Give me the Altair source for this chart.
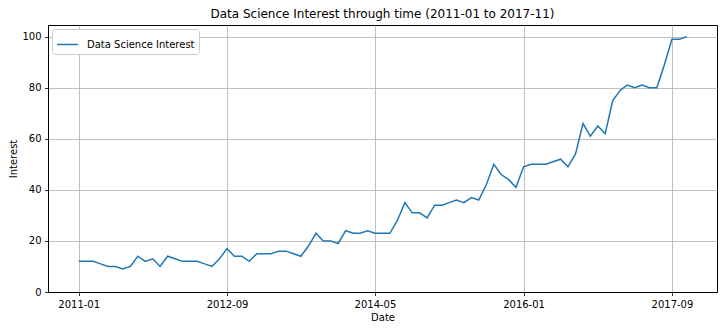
import altair as alt
import pandas as pd

# monthly observations 2011-01 .. 2017-11
months = [f"{y}-{m:02d}-01" for y in range(2011, 2018) for m in range(1, 13)][:83]
interest = [
    12, 12, 12, 11, 10, 10, 9, 10, 14, 12,
    13, 10, 14, 13, 12, 12, 12, 11, 10, 13,
    17, 14, 14, 12, 15, 15, 15, 16, 16, 15,
    14, 18, 23, 20, 20, 19, 24, 23, 23, 24,
    23, 23, 23, 28, 35, 31, 31, 29, 34, 34,
    35, 36, 35, 37, 36, 42, 50, 46, 44, 41,
    49, 50, 50, 50, 51, 52, 49, 54, 66, 61,
    65, 62, 75, 79, 81, 80, 81, 80, 80, 89,
    99, 99, 100,
]
series_name = "Data Science Interest"
y_ticks = [0, 20, 40, 60, 80, 100]
x_ticks = [(2011, 1), (2012, 9), (2014, 5), (2016, 1), (2017, 9)]

df = pd.DataFrame({
    "Date": pd.to_datetime(months),
    "Interest": interest,
    "series": [series_name] * len(interest),
})

x = alt.X(
    "Date:T",
    scale=alt.Scale(
        domain=[alt.DateTime(year=2010, month=8, date=28),
                alt.DateTime(year=2018, month=3, date=5)],
        nice=False,
    ),
    axis=alt.Axis(
        values=[alt.DateTime(year=yy, month=mm, date=1) for yy, mm in x_ticks],
        format="%Y-%m",
        title="Date",
        titlePadding=3,
    ),
)
y = alt.Y(
    "Interest:Q",
    scale=alt.Scale(domain=[0, 104.55], nice=False, zero=False),
    axis=alt.Axis(values=y_ticks, title="Interest", titlePadding=3),
)
color = alt.Color(
    "series:N",
    scale=alt.Scale(domain=[series_name], range=["#1f77b4"]),
    legend=alt.Legend(
        title=None,
        orient="top-left",
        offset=4,
        padding=4,
        strokeColor="#cccccc",
        fillColor="white",
        cornerRadius=3,
        symbolType="stroke",
        symbolSize=441,
        symbolStrokeWidth=1.5,
        labelFontSize=10,
        labelFont="DejaVu Sans",
        labelColor="#000000",
        labelOffset=8,
    ),
)

chart = (
    alt.Chart(df)
    .mark_line(strokeWidth=1.5)
    .encode(x=x, y=y, color=color)
    .properties(
        width=669,
        height=267,
        title=alt.Title(
            "Data Science Interest through time (2011-01 to 2017-11)",
            fontSize=12,
            fontWeight="normal",
            font="DejaVu Sans",
            color="#000000",
            offset=4,
            anchor="middle",
        ),
        autosize=alt.AutoSizeParams(type="none"),
        padding={"left": 40, "top": 17, "right": 2, "bottom": 33},
    )
    .configure_view(stroke="#000000", strokeWidth=1)
    .configure_axis(
        grid=True,
        gridColor="#b0b0b0",
        gridWidth=0.8,
        domainColor="#000000",
        domainWidth=1,
        tickColor="#000000",
        tickSize=3.5,
        tickWidth=0.8,
        labelFont="DejaVu Sans",
        labelFontSize=10,
        labelColor="#000000",
        labelPadding=3.5,
        titleFont="DejaVu Sans",
        titleFontSize=10,
        titleFontWeight="normal",
        titleColor="#000000",
    )
)

chart.save("out.html", embed_options={"renderer": "svg", "actions": False})
